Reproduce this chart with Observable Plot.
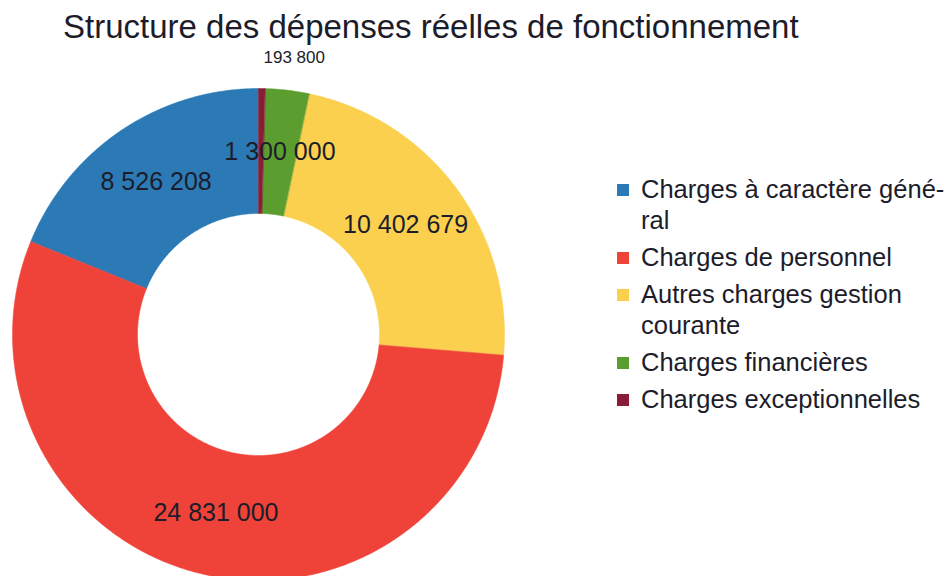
<!DOCTYPE html>
<html>
<head>
<meta charset="utf-8">
<script src="https://cdn.jsdelivr.net/npm/d3@7"></script>
<script src="https://cdn.jsdelivr.net/npm/@observablehq/plot@0.6"></script>
<style>
  html, body { margin: 0; padding: 0; background: #fff; }
  #wrap { position: relative; width: 945px; height: 576px; overflow: hidden; font-family: "Liberation Sans", Arial, sans-serif; color: #1c1c2a; }
  #title { position: absolute; left: 63px; top: 8px; font-size: 33px; white-space: nowrap; color: #1c1c2a; }
  #chart { position: absolute; left: 0; top: 0; }
  #legend { position: absolute; left: 617px; top: 174px; font-size: 25.5px; line-height: 31px; }
  .item { position: relative; padding-left: 24px; margin-bottom: 6px; }
  .sw { position: absolute; left: 0; top: 10px; width: 12px; height: 12px; }
</style>
</head>
<body>
<div id="wrap">
  <div id="title">Structure des dépenses réelles de fonctionnement</div>
  <div id="chart"></div>
  <div id="legend"></div>
</div>
<script>
// ---- data ----
const categories = [
  "Charges à caractère général",
  "Charges de personnel",
  "Autres charges gestion courante",
  "Charges financières",
  "Charges exceptionnelles"
];
const values = [8526208, 24831000, 10402679, 1300000, 193800];
const valueLabels = ["8 526 208", "24 831 000", "10 402 679", "1 300 000", "193 800"];
const legendLines = [
  ["Charges à caractère géné-", "ral"],
  ["Charges de personnel"],
  ["Autres charges gestion", "courante"],
  ["Charges financières"],
  ["Charges exceptionnelles"]
];
const colors = ["#2b7ab6", "#ef4238", "#fbd04e", "#5b9e2f", "#8a1c36"];

// ---- geometry (derived from values) ----
const R = 246, r = 121;
const total = d3.sum(values);
let acc = 0;
const slices = values.map((v, i) => {
  const a0 = acc / total * 2 * Math.PI;
  acc += v;
  const a1 = acc / total * 2 * Math.PI;
  return {name: categories[i], value: v, label: valueLabels[i], a0, a1};
});
// counter-clockwise from 12 o'clock, y up
const pt = (rad, a) => [-rad * Math.sin(a), rad * Math.cos(a)];
const poly = [];
for (const s of slices) {
  const n = Math.max(2, Math.ceil((s.a1 - s.a0) / (Math.PI / 360)));
  for (let k = 0; k <= n; k++) {
    const [x, y] = pt(R, s.a0 + (s.a1 - s.a0) * k / n);
    poly.push({name: s.name, x, y});
  }
  for (let k = n; k >= 0; k--) {
    const [x, y] = pt(r, s.a0 + (s.a1 - s.a0) * k / n);
    poly.push({name: s.name, x, y});
  }
}
const inside = slices.filter(s => s.value / total > 0.01).map(s => {
  const [x, y] = pt((R + r) / 2, (s.a0 + s.a1) / 2);
  return {label: s.label, x, y};
});
const outside = slices.filter(s => s.value / total <= 0.01).map(s => {
  const [x, y] = pt(R + 31, (s.a0 + s.a1) / 2);
  return {label: s.label, x, y};
});

const chart = Plot.plot({
  width: 520,
  height: 576,
  margin: 0,
  x: {domain: [-258, 262], axis: null},
  y: {domain: [-242, 334], axis: null},
  color: {domain: categories, range: colors},
  style: {fontFamily: "Liberation Sans, Arial, sans-serif", background: "transparent"},
  marks: [
    Plot.line(poly, {x: "x", y: "y", z: "name", fill: "name", stroke: "name", strokeWidth: 0.5, curve: "linear-closed"}),
    Plot.text(inside, {x: "x", y: "y", text: "label", fontSize: 25, fill: "#1c1c2a"}),
    Plot.text(outside, {x: "x", y: "y", text: "label", fontSize: 17, fontWeight: 500, fill: "#1c1c2a", dx: 32})
  ]
});
document.getElementById("chart").appendChild(chart);

const legend = document.getElementById("legend");
categories.forEach((c, i) => {
  const item = document.createElement("div");
  item.className = "item";
  const sw = document.createElement("span");
  sw.className = "sw";
  sw.style.background = colors[i];
  item.appendChild(sw);
  const txt = document.createElement("div");
  txt.innerHTML = legendLines[i].join("<br>");
  item.appendChild(txt);
  legend.appendChild(item);
});
</script>
</body>
</html>
